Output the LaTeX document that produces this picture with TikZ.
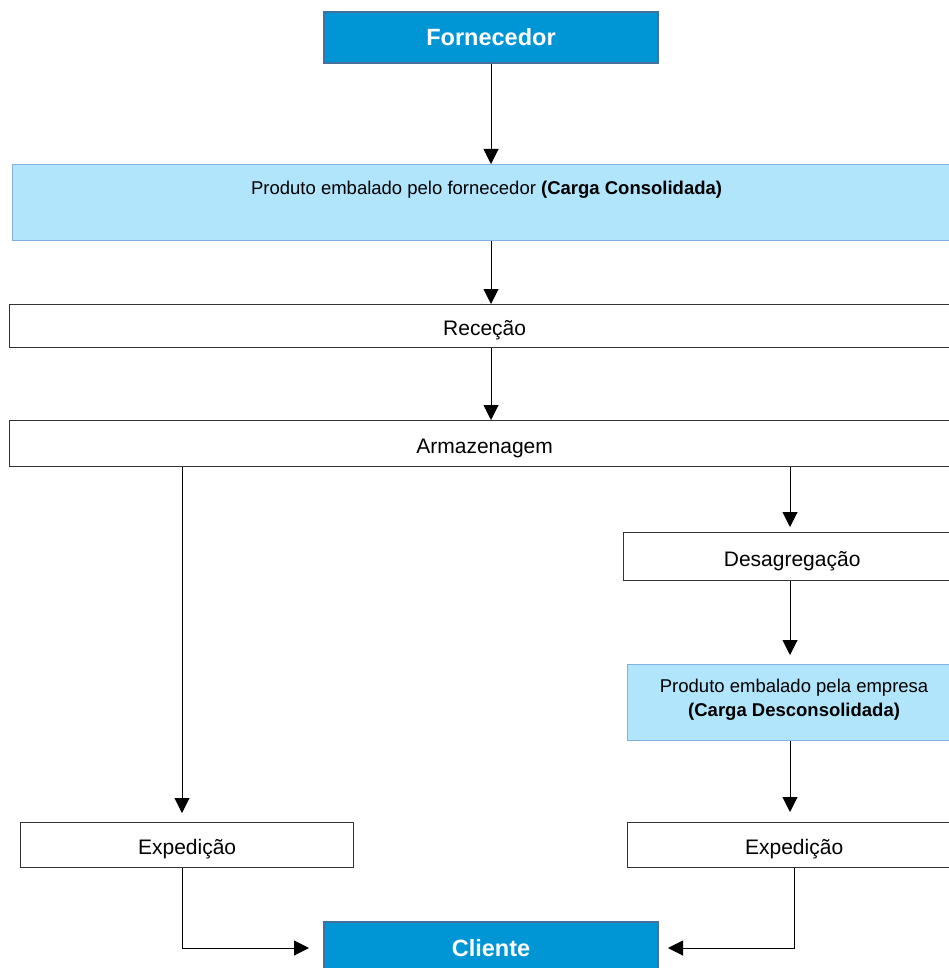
\documentclass[tikz,border=0pt]{standalone}
\usepackage{fontspec}
\setmainfont{Liberation Sans}
\usetikzlibrary{arrows.meta}

\definecolor{hdfill}{HTML}{0096D6}
\definecolor{hdline}{HTML}{41719C}
\definecolor{pkfill}{HTML}{B0E5FC}
\definecolor{pkline}{HTML}{7FB2E0}
\definecolor{boxline}{HTML}{333333}

\tikzset{
  base/.style={rectangle, inner sep=0pt, anchor=north west},
  blk/.style={base, draw=boxline, line width=1.3pt, fill=white,
              text height=19.5pt, text depth=0pt, font=\fontsize{21}{25}\selectfont},
  headbox/.style={base, draw=hdline, line width=2pt, fill=hdfill, text=white,
                  font=\fontsize{23.5}{28}\selectfont\bfseries},
  packbox/.style={base, draw=pkline, line width=1.2pt, fill=pkfill,
                  font=\fontsize{18.5}{24}\selectfont},
  arr/.style={line width=1pt, -{Triangle[width=15pt,length=15pt]}},
}

\begin{document}
\begin{tikzpicture}[x=1pt,y=-1pt]
  \clip (0,0) rectangle (949,968);
  \fill[white] (0,0) rectangle (949,968);

  % process boxes (top-left corner, size)
  \node[headbox, minimum width=334pt, minimum height=51pt] (forn) at (323,11) {Fornecedor};
  \node[packbox, minimum width=948pt, text height=29.5pt, text depth=46.5pt] (carga) at (12,164)
       {Produto embalado pelo fornecedor \textbf{(Carga Consolidada)}};
  \node[blk, minimum width=951pt, minimum height=43pt] (recep) at (8.5,304) {Receção};
  \node[blk, minimum width=951pt, minimum height=46pt] (arm) at (8.5,420) {Armazenagem};
  \node[blk, minimum width=337pt, minimum height=48pt] (desag) at (623,532) {Desagregação};
  \node[packbox, minimum width=333pt, minimum height=76pt] (emp) at (627,664)
       {\raisebox{3pt}[\height][\depth]{\parbox{320pt}{\centering Produto embalado pela empresa\\
        \textbf{(Carga Desconsolidada)}}}};
  \node[blk, minimum width=333pt, minimum height=45pt] (expL) at (20,822) {Expedição};
  \node[blk, minimum width=333pt, minimum height=45pt] (expR) at (627,822) {Expedição};
  \node[headbox, minimum width=334pt, minimum height=52pt] (cli) at (323,921) {Cliente};

  % branch columns
  \coordinate (colL) at (182,0);
  \coordinate (colR) at (790,0);
  \coordinate (colR2) at (794,0);

  % main flow
  \draw[arr] (forn.south) -- (forn.south |- carga.north);
  \draw[arr] (forn.south |- carga.south) -- (forn.south |- recep.north);
  \draw[arr] (forn.south |- recep.south) -- (forn.south |- arm.north);

  % left branch
  \draw[arr, shorten >=9pt] (arm.south -| colL) -- (expL.north -| colL);
  \draw[arr, shorten >=14pt] (expL.south -| colL) |- (cli.west);

  % right branch
  \draw[arr, shorten >=5pt] (arm.south -| colR) -- (desag.north -| colR);
  \draw[arr, shorten >=9pt] (desag.south -| colR) -- (emp.north -| colR);
  \draw[arr, shorten >=10pt] (emp.south -| colR) -- (expR.north -| colR);
  \draw[arr, shorten >=9pt] (expR.south -| colR2) |- (cli.east);
\end{tikzpicture}
\end{document}
